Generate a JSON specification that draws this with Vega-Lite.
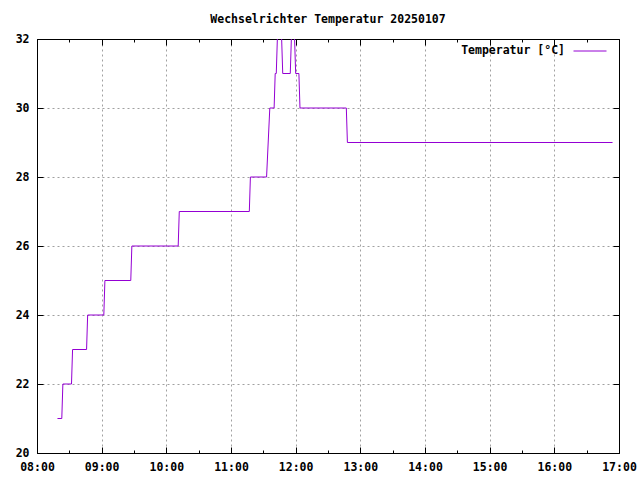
{
  "$schema": "https://vega.github.io/schema/vega-lite/v6.json",
  "width": 582,
  "height": 414,
  "autosize": {"type": "none"},
  "padding": {"left": 37, "top": 39, "right": 21, "bottom": 27},
  "background": "#ffffff",
  "title": {
    "text": "Wechselrichter Temperatur 20250107",
    "anchor": "middle",
    "offset": 8,
    "font": "DejaVu Sans Mono",
    "fontSize": 11.5,
    "fontWeight": "bold",
    "color": "#000000"
  },
  "data": {
    "values": [
      {"time": "2025-01-07T08:19:00Z", "temp": 21},
      {"time": "2025-01-07T08:23:00Z", "temp": 21},
      {"time": "2025-01-07T08:24:00Z", "temp": 22},
      {"time": "2025-01-07T08:32:00Z", "temp": 22},
      {"time": "2025-01-07T08:33:00Z", "temp": 23},
      {"time": "2025-01-07T08:46:00Z", "temp": 23},
      {"time": "2025-01-07T08:47:00Z", "temp": 24},
      {"time": "2025-01-07T09:02:00Z", "temp": 24},
      {"time": "2025-01-07T09:03:00Z", "temp": 25},
      {"time": "2025-01-07T09:27:00Z", "temp": 25},
      {"time": "2025-01-07T09:28:00Z", "temp": 26},
      {"time": "2025-01-07T10:11:00Z", "temp": 26},
      {"time": "2025-01-07T10:12:00Z", "temp": 27},
      {"time": "2025-01-07T11:17:00Z", "temp": 27},
      {"time": "2025-01-07T11:18:00Z", "temp": 28},
      {"time": "2025-01-07T11:33:00Z", "temp": 28},
      {"time": "2025-01-07T11:36:00Z", "temp": 30},
      {"time": "2025-01-07T11:40:00Z", "temp": 30},
      {"time": "2025-01-07T11:41:00Z", "temp": 31},
      {"time": "2025-01-07T11:42:00Z", "temp": 31},
      {"time": "2025-01-07T11:44:00Z", "temp": 33},
      {"time": "2025-01-07T11:46:00Z", "temp": 33},
      {"time": "2025-01-07T11:48:00Z", "temp": 31},
      {"time": "2025-01-07T11:55:00Z", "temp": 31},
      {"time": "2025-01-07T11:57:00Z", "temp": 33},
      {"time": "2025-01-07T11:58:00Z", "temp": 33},
      {"time": "2025-01-07T12:00:00Z", "temp": 31},
      {"time": "2025-01-07T12:03:00Z", "temp": 31},
      {"time": "2025-01-07T12:04:00Z", "temp": 30},
      {"time": "2025-01-07T12:47:00Z", "temp": 30},
      {"time": "2025-01-07T12:48:00Z", "temp": 29},
      {"time": "2025-01-07T16:54:00Z", "temp": 29}
    ]
  },
  "layer": [
    {
      "mark": {"type": "line", "clip": true, "strokeWidth": 1},
      "encoding": {
        "x": {
          "field": "time",
          "type": "temporal",
          "scale": {
            "type": "utc",
            "domain": ["2025-01-07T08:00:00Z", "2025-01-07T17:00:00Z"],
            "nice": false
          },
          "axis": {
            "orient": "bottom",
            "title": null,
            "values": [
              "2025-01-07T08:00:00Z", "2025-01-07T08:30:00Z", "2025-01-07T09:00:00Z", "2025-01-07T09:30:00Z",
              "2025-01-07T10:00:00Z", "2025-01-07T10:30:00Z", "2025-01-07T11:00:00Z", "2025-01-07T11:30:00Z",
              "2025-01-07T12:00:00Z", "2025-01-07T12:30:00Z", "2025-01-07T13:00:00Z", "2025-01-07T13:30:00Z",
              "2025-01-07T14:00:00Z", "2025-01-07T14:30:00Z", "2025-01-07T15:00:00Z", "2025-01-07T15:30:00Z",
              "2025-01-07T16:00:00Z", "2025-01-07T16:30:00Z", "2025-01-07T17:00:00Z"
            ],
            "labelExpr": "utcminutes(datum.value) == 0 ? utcFormat(datum.value, '%H:%M') : ''",
            "tickSize": {"condition": {"test": "utcminutes(datum.value) == 0", "value": -6}, "value": -3},
            "labelPadding": 14,
            "grid": true,
            "gridOpacity": {"condition": {"test": "utcminutes(datum.value) == 0", "value": 1}, "value": 0},
            "labelFlush": false,
            "labelOverlap": false
          }
        },
        "y": {
          "field": "temp",
          "type": "quantitative",
          "scale": {"domain": [20, 32], "nice": false, "zero": false},
          "axis": {
            "orient": "left",
            "title": null,
            "values": [20, 22, 24, 26, 28, 30, 32],
            "tickSize": -6,
            "labelPadding": 14,
            "grid": true,
            "labelFlush": false,
            "labelOverlap": false
          }
        },
        "color": {
          "datum": "Temperatur [°C]",
          "type": "nominal",
          "scale": {"range": ["#9400d3"]},
          "legend": {
            "title": null,
            "orient": "none",
            "legendX": 536,
            "legendY": -5,
            "padding": 0,
            "symbolType": "stroke",
            "symbolSize": 1089,
            "symbolStrokeWidth": 1,
            "labelAlign": "right",
            "labelOffset": -42,
            "labelFont": "DejaVu Sans Mono",
            "labelFontSize": 11.5,
            "labelFontWeight": "bold",
            "labelColor": "#000000"
          }
        }
      }
    },
    {
      "mark": {"type": "line", "clip": true, "opacity": 0},
      "encoding": {
        "x": {
          "field": "time",
          "type": "temporal",
          "axis": {
            "orient": "top",
            "title": null,
            "labels": false,
            "values": [
              "2025-01-07T08:00:00Z", "2025-01-07T08:30:00Z", "2025-01-07T09:00:00Z", "2025-01-07T09:30:00Z",
              "2025-01-07T10:00:00Z", "2025-01-07T10:30:00Z", "2025-01-07T11:00:00Z", "2025-01-07T11:30:00Z",
              "2025-01-07T12:00:00Z", "2025-01-07T12:30:00Z", "2025-01-07T13:00:00Z", "2025-01-07T13:30:00Z",
              "2025-01-07T14:00:00Z", "2025-01-07T14:30:00Z", "2025-01-07T15:00:00Z", "2025-01-07T15:30:00Z",
              "2025-01-07T16:00:00Z", "2025-01-07T16:30:00Z", "2025-01-07T17:00:00Z"
            ],
            "tickSize": {"condition": {"test": "utcminutes(datum.value) == 0", "value": -6}, "value": -3},
            "grid": false
          }
        },
        "y": {
          "field": "temp",
          "type": "quantitative",
          "axis": {
            "orient": "right",
            "title": null,
            "labels": false,
            "values": [20, 22, 24, 26, 28, 30, 32],
            "tickSize": -6,
            "grid": false
          }
        }
      }
    }
  ],
  "resolve": {"axis": {"x": "independent", "y": "independent"}},
  "config": {
    "view": {"stroke": "#000000", "strokeWidth": 1},
    "axis": {
      "domainColor": "#000000",
      "domainWidth": 1,
      "tickColor": "#000000",
      "tickWidth": 1,
      "labelColor": "#000000",
      "labelFont": "DejaVu Sans Mono",
      "labelFontSize": 11.5,
      "labelFontWeight": "bold",
      "gridColor": "#a0a0a0",
      "gridDash": [2, 3],
      "gridWidth": 1
    }
  }
}
